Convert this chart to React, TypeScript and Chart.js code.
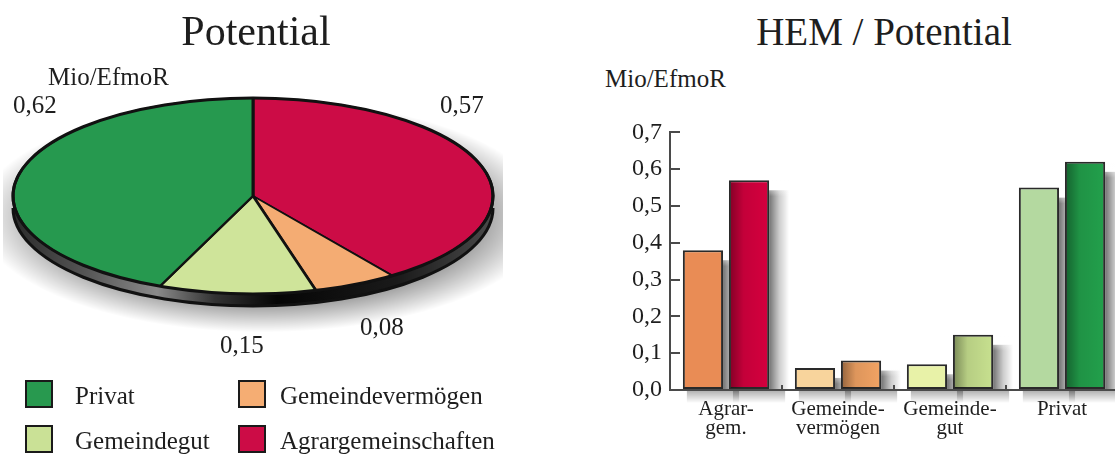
import React, { useEffect, useRef } from 'react';
import { Chart, registerables } from 'chart.js';

Chart.register(...registerables);

const FONT = '"Liberation Serif", "Times New Roman", serif';
const TEXT = '#1e1e1e';

// ---- Pie data ----
const pieLabels = ['Agrargemeinschaften', 'Gemeindevermögen', 'Gemeindegut', 'Privat'];
const pieValues = [0.57, 0.08, 0.15, 0.62];
const pieColors = ['#CC0C46', '#F4AC73', '#CFE49A', '#26994F'];

// ---- Bar data ----
const barCategories = [['Agrar-', 'gem.'], ['Gemeinde-', 'vermögen'], ['Gemeinde-', 'gut'], ['Privat']];
const hemValues = [0.38, 0.06, 0.07, 0.55];
const potentialValues = [0.57, 0.08, 0.15, 0.62];
const hemColors = ['#E98C55', '#F8D49C', '#E8F2A8', '#B4D9A0'];
const potentialColors = ['#D4003E', '#F0A263', '#C6DF8E', '#229F4B'];
const yMin = 0;
const yMax = 0.7;
const yStep = 0.1;

// ---- Legend ----
const legendItems = [
  { label: 'Privat', color: '#28994F', left: 25, top: 380 },
  { label: 'Gemeindegut', color: '#CAE196', left: 25, top: 425 },
  { label: 'Gemeindevermögen', color: '#F5AD73', left: 238, top: 380 },
  { label: 'Agrargemeinschaften', color: '#CC0C46', left: 238, top: 425 },
];

// positions of the value labels around the pie (same order as pieValues)
const pieLabelPos = [
  { left: 440, top: 92 },
  { left: 360, top: 314 },
  { left: 220, top: 332 },
  { left: 13, top: 92 },
];

const fmt2 = (v: number) => v.toFixed(2).replace('.', ',');
const fmt1 = (v: number) => v.toFixed(1).replace('.', ',');

const PIE_CANVAS = { left: 3, top: 0, w: 500, h: 500 };
const PIE_CENTER_Y = 196; // page y of ellipse center
const SQUASH = 0.408;
const RIM = 12;

const squashPlugin = {
  id: 'squash',
  beforeDatasetsDraw(chart: any) {
    const ctx = chart.ctx;
    const a = chart.chartArea;
    const cx = (a.left + a.right) / 2;
    const cy = (a.top + a.bottom) / 2;
    const el: any = chart.getDatasetMeta(0).data[0];
    const R = el ? el.outerRadius : 240;
    const ty = PIE_CENTER_Y - PIE_CANVAS.top;
    // soft drop shadow (scaled radial gradient)
    ctx.save();
    ctx.translate(cx + 10, ty + RIM + 8);
    ctx.scale(1, SQUASH);
    const rg = ctx.createRadialGradient(0, 0, R * 0.85, 0, 0, R + 45);
    rg.addColorStop(0, 'rgba(0,0,0,0.45)');
    rg.addColorStop(0.45, 'rgba(0,0,0,0.25)');
    rg.addColorStop(1, 'rgba(0,0,0,0)');
    ctx.fillStyle = rg;
    ctx.beginPath();
    ctx.arc(0, 0, R + 45, 0, Math.PI * 2);
    ctx.fill();
    ctx.restore();
    // rim (3D edge)
    ctx.save();
    const g = ctx.createLinearGradient(cx - R, 0, cx + R, 0);
    g.addColorStop(0, '#2a2a2a');
    g.addColorStop(0.15, '#555');
    g.addColorStop(0.3, '#8a8a8a');
    g.addColorStop(0.42, '#333');
    g.addColorStop(0.55, '#050505');
    g.addColorStop(0.8, '#1a1a1a');
    g.addColorStop(1, '#4a4a4a');
    ctx.fillStyle = g;
    ctx.beginPath();
    ctx.moveTo(cx - R, ty);
    ctx.lineTo(cx - R, ty + RIM);
    ctx.ellipse(cx, ty + RIM, R, R * SQUASH, 0, Math.PI, 0, true);
    ctx.lineTo(cx + R, ty);
    ctx.closePath();
    ctx.fill();
    ctx.lineWidth = 3;
    ctx.strokeStyle = '#111';
    ctx.beginPath();
    ctx.ellipse(cx, ty + RIM, R, R * SQUASH, 0, Math.PI, 0, true);
    ctx.stroke();
    ctx.restore();
    // squash the pie into an ellipse
    ctx.save();
    ctx.translate(cx, ty);
    ctx.scale(1, SQUASH);
    ctx.translate(-cx, -cy);
  },
  afterDatasetsDraw(chart: any) {
    const ctx = chart.ctx;
    ctx.restore();
    const a = chart.chartArea;
    const cx = (a.left + a.right) / 2;
    const el: any = chart.getDatasetMeta(0).data[0];
    const R = el ? el.outerRadius : 240;
    const ty = PIE_CENTER_Y - PIE_CANVAS.top;
    ctx.save();
    ctx.lineWidth = 3;
    ctx.strokeStyle = '#111';
    ctx.beginPath();
    ctx.ellipse(cx, ty, R, R * SQUASH, 0, 0, Math.PI * 2);
    ctx.stroke();
    ctx.restore();
  },
};

const barShadowPlugin = {
  id: 'barShadow',
  beforeDatasetsDraw(chart: any) {
    const ctx = chart.ctx;
    const a = chart.chartArea;
    ctx.save();
    ctx.beginPath();
    ctx.rect(a.left + 2, a.top - 30, a.right - a.left, a.bottom - a.top + 50);
    ctx.clip();
    chart.data.datasets.forEach((_: any, i: number) => {
      chart.getDatasetMeta(i).data.forEach((el: any) => {
        const p = el.getProps(['x', 'y', 'base', 'width'], true);
        const right = p.x + p.width / 2;
        const left = p.x - p.width / 2;
        // side shadow
        const gx = ctx.createLinearGradient(right, 0, right + 20, 0);
        gx.addColorStop(0, 'rgba(0,0,0,0.55)');
        gx.addColorStop(0.5, 'rgba(0,0,0,0.2)');
        gx.addColorStop(1, 'rgba(0,0,0,0)');
        ctx.fillStyle = gx;
        ctx.fillRect(right, p.y + 10, 20, p.base - p.y - 10);
        const gt = ctx.createLinearGradient(0, p.y, 0, p.y + 16);
        gt.addColorStop(0, 'rgba(255,255,255,1)');
        gt.addColorStop(1, 'rgba(255,255,255,0)');
        ctx.fillStyle = gt;
        ctx.fillRect(right, p.y, 20, 16);
        // shadow below the axis
        const gy = ctx.createLinearGradient(0, p.base, 0, p.base + 14);
        gy.addColorStop(0, 'rgba(0,0,0,0.35)');
        gy.addColorStop(1, 'rgba(0,0,0,0)');
        ctx.fillStyle = gy;
        ctx.fillRect(left + 4, p.base, p.width + 12, 14);
      });
    });
    ctx.restore();
  },
  afterDatasetsDraw(chart: any) {
    // darker left side on the potential bars
    const ctx = chart.ctx;
    ctx.save();
    chart.getDatasetMeta(1).data.forEach((el: any) => {
      const p = el.getProps(['x', 'y', 'base', 'width'], true);
      const left = p.x - p.width / 2 + 2;
      const w = p.width - 4;
      const g = ctx.createLinearGradient(left, 0, left + w, 0);
      g.addColorStop(0, 'rgba(0,0,0,0.35)');
      g.addColorStop(0.35, 'rgba(0,0,0,0.08)');
      g.addColorStop(1, 'rgba(0,0,0,0)');
      ctx.fillStyle = g;
      ctx.fillRect(left, p.y + 2, w, p.base - p.y - 3);
    });
    ctx.restore();
  },
};

function PieChart() {
  const ref = useRef<HTMLCanvasElement>(null);
  useEffect(() => {
    if (!ref.current) return;
    const chart = new Chart(ref.current, {
      type: 'pie',
      data: {
        labels: pieLabels,
        datasets: [
          {
            data: pieValues,
            backgroundColor: pieColors,
            borderColor: '#111',
            borderWidth: 3,
          },
        ],
      },
      options: {
        animation: false,
        responsive: false,
        events: [],
        layout: { padding: 8.5 },
        plugins: { legend: { display: false }, tooltip: { enabled: false }, title: { display: false } },
      },
      plugins: [squashPlugin],
    });
    return () => chart.destroy();
  }, []);
  return (
    <canvas
      ref={ref}
      width={PIE_CANVAS.w}
      height={PIE_CANVAS.h}
      style={{
        position: 'absolute',
        left: PIE_CANVAS.left,
        top: PIE_CANVAS.top,
        width: PIE_CANVAS.w,
        height: PIE_CANVAS.h,
      }}
    />
  );
}

function BarChart() {
  const ref = useRef<HTMLCanvasElement>(null);
  useEffect(() => {
    if (!ref.current) return;
    const chart = new Chart(ref.current, {
      type: 'bar',
      data: {
        labels: barCategories as any,
        datasets: [
          {
            label: 'HEM',
            data: hemValues,
            backgroundColor: hemColors,
            borderColor: '#2a2a2a',
            borderWidth: 2,
            borderSkipped: false,
            categoryPercentage: 0.823,
            barPercentage: 0.872,
          },
          {
            label: 'Potential',
            data: potentialValues,
            backgroundColor: potentialColors,
            borderColor: '#2a2a2a',
            borderWidth: 2,
            borderSkipped: false,
            categoryPercentage: 0.823,
            barPercentage: 0.872,
          },
        ],
      },
      options: {
        animation: false,
        responsive: false,
        events: [],
        layout: { padding: { top: 17, right: 2, left: 0, bottom: 0 } },
        plugins: { legend: { display: false }, tooltip: { enabled: false }, title: { display: false } },
        scales: {
          x: {
            offset: true,
            afterFit: (s: any) => {
              s.height = 60;
            },
            border: { display: true, color: '#4a4a4a', width: 2, z: 1 },
            grid: {
              offset: true,
              drawOnChartArea: false,
              drawTicks: true,
              tickLength: -5,
              color: '#4a4a4a',
              lineWidth: 2,
              z: 1,
            },
            ticks: {
              color: TEXT,
              padding: 15,
              maxRotation: 0,
              autoSkip: false,
              font: { family: FONT, size: 21, lineHeight: 0.92 },
            },
          },
          y: {
            min: yMin,
            max: yMax,
            afterFit: (s: any) => {
              s.width = 70;
            },
            border: { display: true, color: '#4a4a4a', width: 2, z: 1 },
            grid: {
              drawOnChartArea: false,
              drawTicks: true,
              tickLength: -10,
              color: '#4a4a4a',
              lineWidth: 2,
              z: 1,
            },
            ticks: {
              stepSize: yStep,
              color: TEXT,
              padding: 18,
              font: { family: FONT, size: 24 },
              callback: (v: any) => fmt1(Number(v)),
            },
          },
        },
      },
      plugins: [barShadowPlugin],
    });
    return () => chart.destroy();
  }, []);
  return (
    <canvas
      ref={ref}
      width={520}
      height={350}
      style={{ position: 'absolute', left: 600, top: 100, width: 520, height: 350 }}
    />
  );
}

const txt = (extra: React.CSSProperties): React.CSSProperties => ({
  position: 'absolute',
  whiteSpace: 'nowrap',
  lineHeight: 1,
  color: TEXT,
  fontFamily: FONT,
  zIndex: 2,
  ...extra,
});

export default function App() {
  return (
    <div
      style={{
        position: 'absolute',
        left: 0,
        top: 0,
        width: 1115,
        height: 461,
        overflow: 'hidden',
        background: '#fff',
        fontFamily: FONT,
      }}
    >
      <PieChart />
      <BarChart />
      <div style={txt({ left: 156, top: 10, width: 200, textAlign: 'center', fontSize: 42 })}>Potential</div>
      <div style={txt({ left: 734, top: 12, width: 300, textAlign: 'center', fontSize: 39 })}>HEM / Potential</div>
      <div style={txt({ left: 48, top: 64, fontSize: 25 })}>Mio/EfmoR</div>
      <div style={txt({ left: 605, top: 66, fontSize: 25 })}>Mio/EfmoR</div>
      {pieValues.map((v, i) => (
        <div key={pieLabels[i]} style={txt({ left: pieLabelPos[i].left, top: pieLabelPos[i].top, fontSize: 25 })}>
          {fmt2(v)}
        </div>
      ))}
      {legendItems.map((it) => (
        <React.Fragment key={it.label}>
          <div
            style={{
              position: 'absolute',
              left: it.left,
              top: it.top,
              width: 28,
              height: 28,
              boxSizing: 'border-box',
              border: '2px solid #1a1a1a',
              background: it.color,
              zIndex: 2,
            }}
          />
          <div style={txt({ left: it.left + (it.left < 100 ? 50 : 42), top: it.top + 3, fontSize: 25 })}>{it.label}</div>
        </React.Fragment>
      ))}
    </div>
  );
}
